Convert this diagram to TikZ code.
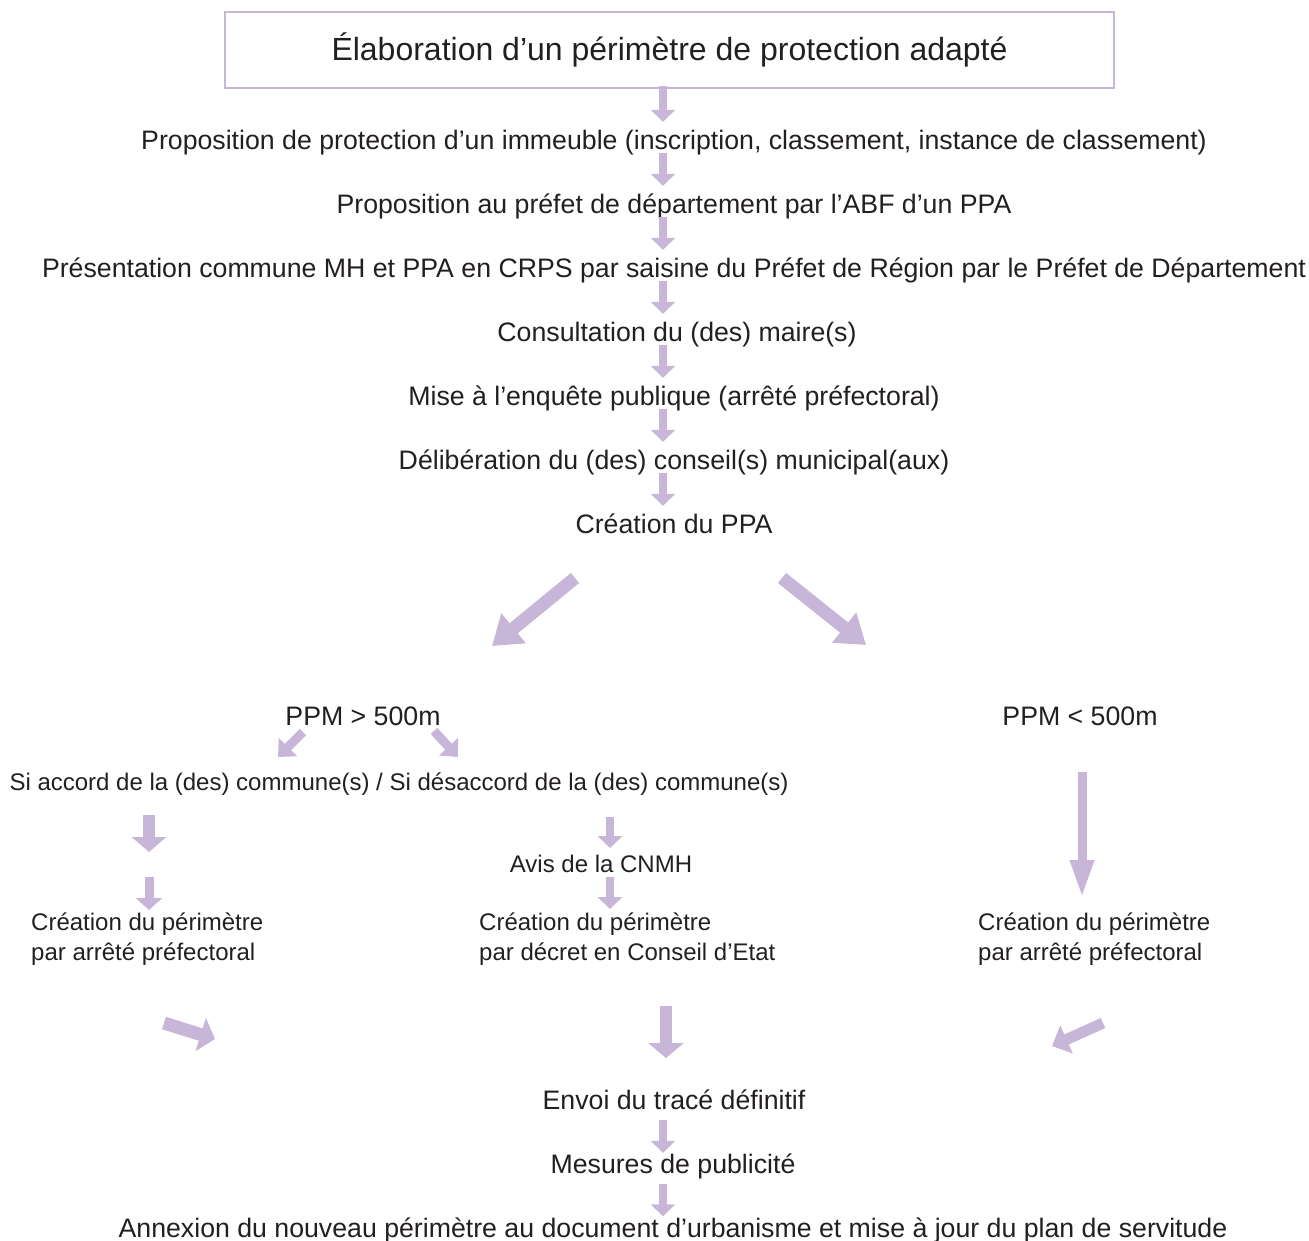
\documentclass[tikz,border=0pt]{standalone}
\usepackage{fontspec}
\setmainfont{Liberation Sans}
\usetikzlibrary{arrows.meta}
\definecolor{lilac}{HTML}{C8B6D9}
\definecolor{ink}{HTML}{231F20}

\begin{document}
\begin{tikzpicture}[x=1pt, y=-1pt,
      every node/.style={text=ink, inner sep=0pt},
      stage/.style={anchor=base, font=\fontsize{26.7}{31}\selectfont,
          text height=20pt, text depth=6.5pt},
      note/.style={font=\fontsize{24}{30}\selectfont},
      pipe/.style={draw=lilac},
      flow/.style={pipe, line width=8pt, -{Triangle[length=12pt, width=24pt]}},
      smallflow/.style={pipe, line width=9pt, -{Triangle[length=14pt, width=25pt]}},
      midflow/.style={pipe, line width=12pt, -{Triangle[length=15pt, width=34pt]}},
      bigflow/.style={pipe, line width=13pt, -{Triangle[length=28pt, width=37pt]}},
      longflow/.style={pipe, line width=9pt, -{Triangle[length=38pt, width=22pt]}}]
    \useasboundingbox (0,0) rectangle (1309,1240);
    \node[draw=lilac, line width=2.5pt, minimum width=889pt, minimum height=76pt,
          font=\fontsize{32}{38}\selectfont] (title) at (669.5,50) {Élaboration d’un périmètre de protection adapté};
    \node[stage] (propo) at (674,149.5) {Proposition de protection d’un immeuble (inscription, classement, instance de classement)};
    \node[stage] (prefet) at (674,213.5) {Proposition au préfet de département par l’ABF d’un PPA};
    \node[stage] (crps) at (674,277.5) {Présentation commune MH et PPA en CRPS par saisine du Préfet de Région par le Préfet de Département};
    \node[stage] (maires) at (677,341.5) {Consultation du (des) maire(s)};
    \node[stage] (enquete) at (674,405.5) {Mise à l’enquête publique (arrêté préfectoral)};
    \node[stage] (delib) at (674,469.5) {Délibération du (des) conseil(s) municipal(aux)};
    \node[stage] (ppa) at (674,533.5) {Création du PPA};
    \coordinate (axis) at (663,0);
    \foreach \a/\b in {title/propo, propo/prefet, prefet/crps, crps/maires,
                       maires/enquete, enquete/delib, delib/ppa}
      \draw[flow, shorten <=-3pt, shorten >=7.5pt] (\a.south -| axis) -- (\b.north -| axis);
    % two branches
    \node[stage] (grand) at (363,725.5) {PPM > 500m};
    \node[stage] (petit) at (1080,725.5) {PPM < 500m};
    \coordinate (ppaL) at (575,578);
    \coordinate (ppaR) at (782,578);
    \coordinate (grandIn) at (492,646);
    \coordinate (petitIn) at (866,645);
    \draw[bigflow] (ppaL) -- (grandIn);
    \draw[bigflow] (ppaR) -- (petitIn);
    \node[note, anchor=base] (accord) at (399,790.6) {Si accord de la (des) commune(s) / Si désaccord de la (des) commune(s)};
    \coordinate (grandL) at (303,732);
    \coordinate (grandR) at (434,731);
    \draw[smallflow] (grandL) -- (278,757);
    \draw[smallflow] (grandR) -- (458,757);
    \node[note, anchor=base] (cnmh) at (601,872.6) {Avis de la CNMH};
    \node[note, anchor=west, align=left] (arrete) at (31,939) {Création du périmètre\\par arrêté préfectoral};
    \node[note, anchor=west, align=left] (decret) at (479,939) {Création du périmètre\\par décret en Conseil d’Etat};
    \node[note, anchor=west, align=left] (arreteB) at (978,939) {Création du périmètre\\par arrêté préfectoral};
    % left column
    \coordinate (accA) at (149,815);
    \coordinate (accB) at (149,852);
    \coordinate (accC) at (149,877);
    \coordinate (accD) at (149,910);
    \draw[midflow] (accA) -- (accB);
    \draw[flow, line width=9pt, -{Triangle[length=12pt, width=26pt]}] (accC) -- (accD);
    % middle column
    \coordinate (desA) at (610,817);
    \coordinate (desB) at (610,848);
    \coordinate (desC) at (610,877);
    \coordinate (desD) at (610,909);
    \draw[flow] (desA) -- (desB);
    \draw[flow] (desC) -- (desD);
    % right column
    \coordinate (petA) at (1082,772);
    \coordinate (petB) at (1082,898);
    \draw[longflow] (petA) -- (petB);
    % towards the final steps
    \node[stage] (envoi) at (674,1109.5) {Envoi du tracé définitif};
    \node[stage] (pub) at (673,1173.5) {Mesures de publicité};
    \node[stage] (annexe) at (673,1237) {Annexion du nouveau périmètre au document d’urbanisme et mise à jour du plan de servitude};
    \coordinate (finL) at (164,1023);
    \coordinate (finM) at (666,1006);
    \coordinate (finR) at (1103,1023);
    \draw[midflow, line width=13pt] (finL) -- (215,1039);
    \draw[midflow, -{Triangle[length=15pt, width=35pt]}] (finM) -- (666,1058);
    \draw[midflow, line width=11pt, -{Triangle[length=16pt, width=30pt]}] (finR) -- (1052,1046);
    \draw[flow, shorten <=4pt, shorten >=0.5pt] (envoi.south -| axis) -- (pub.north -| axis);
    \draw[flow, shorten <=4pt, shorten >=0.5pt] (pub.south -| axis) -- (annexe.north -| axis);
  \end{tikzpicture}
\end{document}
